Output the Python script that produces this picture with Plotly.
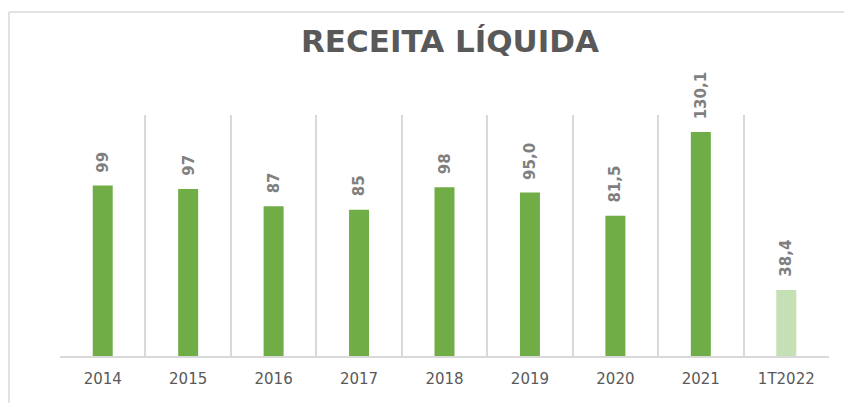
import plotly.graph_objects as go

categories = ["2014", "2015", "2016", "2017", "2018", "2019", "2020", "2021", "1T2022"]
values = [99, 97, 87, 85, 98, 95.0, 81.5, 130.1, 38.4]
labels = ["99", "97", "87", "85", "98", "95,0", "81,5", "130,1", "38,4"]
bar_colors = ["#70AD47"] * 8 + ["#C5E0B4"]
title_text = "RECEITA LÍQUIDA"

# The page body has an 8px default margin; figure is sized to fit the window.
W, H = 844, 395
L, R, T, B = 52, 23, 107, 47
PW, PH = W - L - R, H - T - B

fig = go.Figure()
fig.add_trace(go.Bar(
    x=categories, y=values,
    marker=dict(color=bar_colors, line=dict(width=0)),
    width=0.234, hoverinfo="skip",
))

for i, (v, t) in enumerate(zip(values, labels)):
    fig.add_annotation(
        x=i, y=v, text=t, showarrow=False, textangle=-90,
        xanchor="center", yanchor="bottom", yshift=11,
        font=dict(family="DejaVu Sans", size=15, color="#7F7F7F", weight="bold"),
    )

# outer chart border (left and top visible)
bx = (1 - L) / PW
by = 1 + (T - 4) / PH
fig.add_shape(type="line", xref="paper", yref="paper",
              x0=bx, x1=bx, y0=-0.3, y1=by,
              line=dict(color="#D9D9D9", width=1.5), layer="below")
fig.add_shape(type="line", xref="paper", yref="paper",
              x0=bx, x1=1.05, y0=by, y1=by,
              line=dict(color="#D9D9D9", width=1.5), layer="below")

fig.update_layout(
    width=W, height=H,
    margin=dict(l=L, r=R, t=T, b=B, autoexpand=False),
    paper_bgcolor="white", plot_bgcolor="white",
    showlegend=False,
    title=dict(text=title_text, xref="container", yref="container",
               x=442 / W, y=1 - 33 / H, xanchor="center", yanchor="middle",
               font=dict(family="DejaVu Sans", size=31, color="#595959", weight="bold")),
    xaxis=dict(
        type="category", categoryorder="array", categoryarray=categories,
        range=[-0.5, len(categories) - 0.5], autorange=False,
        tickson="boundaries", showgrid=True,
        gridcolor="#D9D9D9", gridwidth=1.5, ticks="", showline=True,
        linecolor="#D9D9D9", linewidth=1.5,
        tickfont=dict(family="DejaVu Sans", size=15, color="#595959"),
        ticklabelstandoff=8, tickangle=0,
    ),
    yaxis=dict(range=[0, 140], autorange=False, visible=False, showgrid=False, zeroline=False),
)

fig.write_html("out.html")
